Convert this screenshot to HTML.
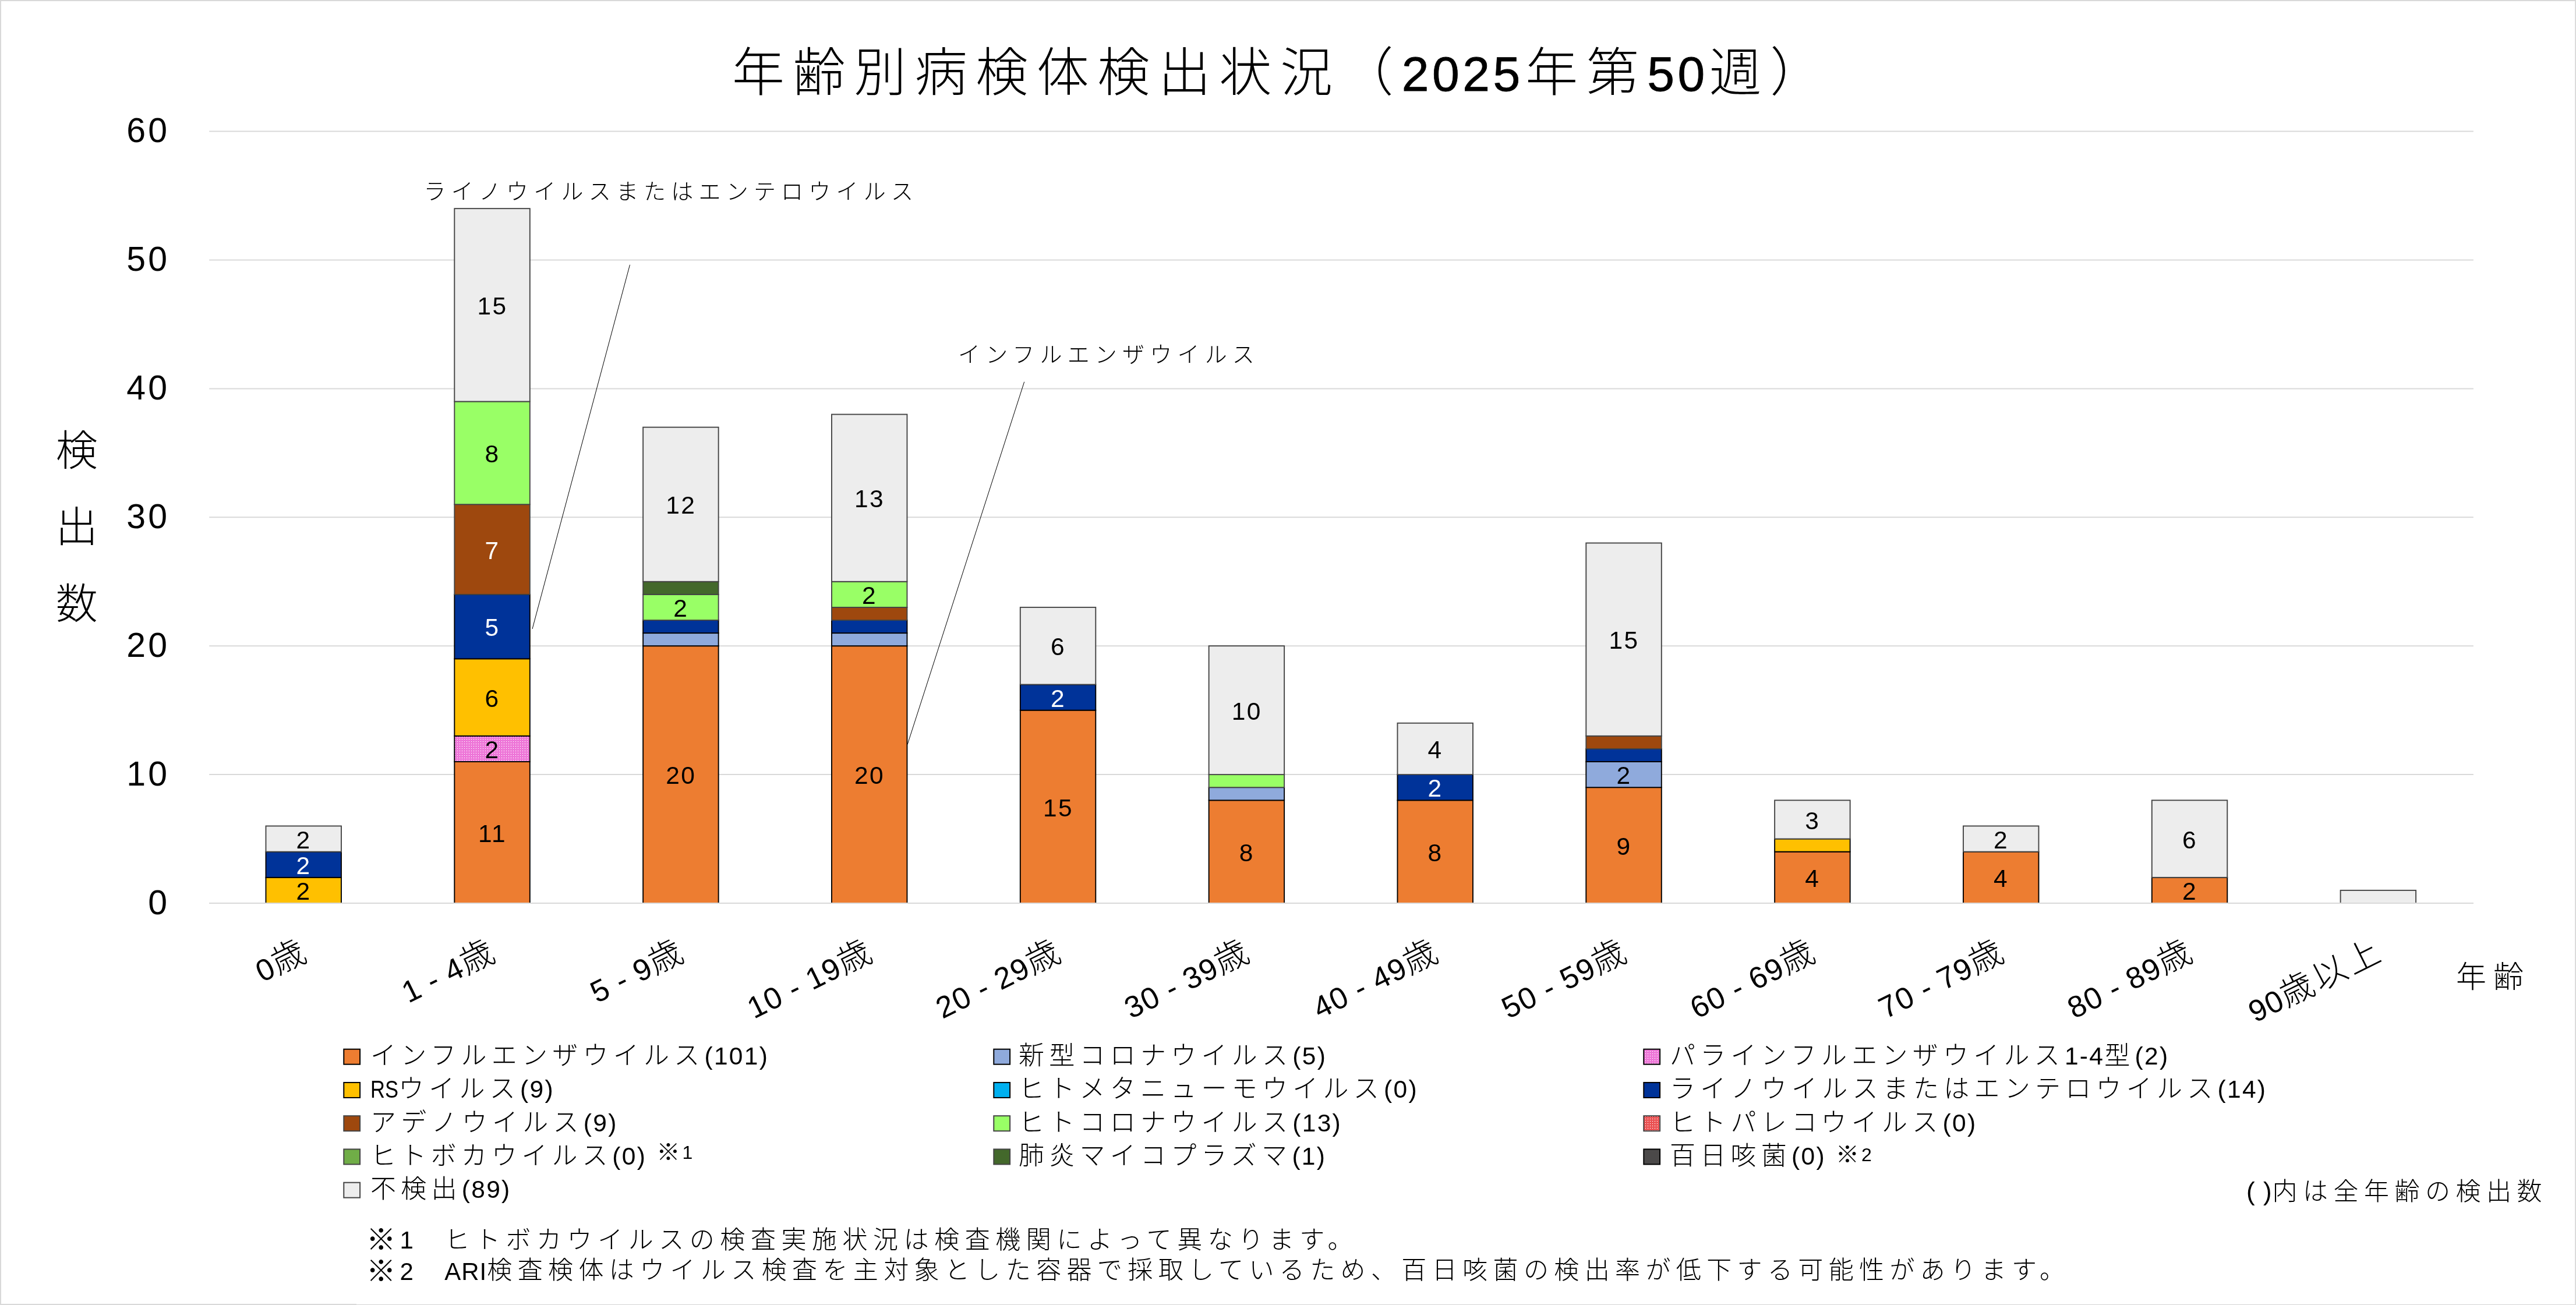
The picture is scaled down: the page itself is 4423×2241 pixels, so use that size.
<!DOCTYPE html>
<html lang="ja"><head><meta charset="utf-8"><title>年齢別病検体検出状況（2025年第50週）</title>
<style>html,body{margin:0;padding:0;background:#fff}svg{display:block;will-change:transform}text{font-family:"Liberation Sans", "Noto Sans CJK JP", sans-serif;font-weight:300;fill:#000;white-space:pre}</style></head><body>
<svg width="4423" height="2241" viewBox="0 0 4423 2241">
<defs>
<pattern id="pPink" width="4" height="4" patternUnits="userSpaceOnUse"><rect width="4" height="4" fill="#E84ACB"/><rect x="0" y="0" width="1" height="1" fill="#fff"/><rect x="2" y="0" width="1" height="1" fill="#fff"/><rect x="1" y="1" width="1" height="1" fill="#fff"/><rect x="0" y="2" width="1" height="1" fill="#fff"/><rect x="2" y="2" width="1" height="1" fill="#fff"/></pattern>
<pattern id="pRed" width="4" height="4" patternUnits="userSpaceOnUse"><rect width="4" height="4" fill="#E41A1C"/><rect x="0" y="0" width="1" height="1" fill="#fff"/><rect x="2" y="0" width="1" height="1" fill="#fff"/><rect x="1" y="1" width="1" height="1" fill="#fff"/><rect x="0" y="2" width="1" height="1" fill="#fff"/><rect x="2" y="2" width="1" height="1" fill="#fff"/></pattern>
</defs>
<rect x="0" y="0" width="4423" height="2" fill="#D9D9D9"/><rect x="0" y="0" width="2" height="2241" fill="#D9D9D9"/>
<rect x="4421.2" y="0" width="1.8" height="2241" fill="#D9D9D9"/>
<rect x="0" y="2239" width="612" height="2" fill="#D9D9D9"/><rect x="612" y="2239.8" width="3811" height="1.2" fill="#D9D9D9"/>
<text x="1257" y="156" font-size="90"><tspan letter-spacing="14.56">年齢別病検体検出状況（</tspan><tspan letter-spacing="5.5" font-size="84" dx="-0.4" stroke="#000" stroke-width="0.8">2025</tspan><tspan letter-spacing="14.56" dx="3.6">年第</tspan><tspan letter-spacing="5.5" font-size="84" stroke="#000" stroke-width="0.8">50</tspan><tspan letter-spacing="14.56" dx="2">週）</tspan></text>
<line x1="359.2" y1="1551.00" x2="4246.9" y2="1551.00" stroke="#D9D9D9" stroke-width="2"/>
<text x="291" y="1569.50" font-size="59" letter-spacing="4" text-anchor="end">0</text>
<line x1="359.2" y1="1330.10" x2="4246.9" y2="1330.10" stroke="#D9D9D9" stroke-width="2"/>
<text x="291" y="1348.60" font-size="59" letter-spacing="4" text-anchor="end">10</text>
<line x1="359.2" y1="1109.20" x2="4246.9" y2="1109.20" stroke="#D9D9D9" stroke-width="2"/>
<text x="291" y="1127.70" font-size="59" letter-spacing="4" text-anchor="end">20</text>
<line x1="359.2" y1="888.30" x2="4246.9" y2="888.30" stroke="#D9D9D9" stroke-width="2"/>
<text x="291" y="906.80" font-size="59" letter-spacing="4" text-anchor="end">30</text>
<line x1="359.2" y1="667.40" x2="4246.9" y2="667.40" stroke="#D9D9D9" stroke-width="2"/>
<text x="291" y="685.90" font-size="59" letter-spacing="4" text-anchor="end">40</text>
<line x1="359.2" y1="446.50" x2="4246.9" y2="446.50" stroke="#D9D9D9" stroke-width="2"/>
<text x="291" y="465.00" font-size="59" letter-spacing="4" text-anchor="end">50</text>
<line x1="359.2" y1="225.60" x2="4246.9" y2="225.60" stroke="#D9D9D9" stroke-width="2"/>
<text x="291" y="244.10" font-size="59" letter-spacing="4" text-anchor="end">60</text>
<text x="131.7" y="798.5" font-size="72" text-anchor="middle">検</text>
<text x="131.7" y="930" font-size="72" text-anchor="middle">出</text>
<text x="131.7" y="1061.5" font-size="72" text-anchor="middle">数</text>
<rect x="456.49" y="1506.82" width="129.50" height="44.18" fill="#FFC000" stroke="#000000" stroke-width="1.9"/>
<rect x="456.49" y="1462.64" width="129.50" height="44.18" fill="#003399" stroke="#000000" stroke-width="1.9"/>
<rect x="456.49" y="1418.46" width="129.50" height="44.18" fill="#EDEDED" stroke="#444444" stroke-width="1.9"/>
<rect x="780.32" y="1308.01" width="129.50" height="242.99" fill="#ED7D31" stroke="#000000" stroke-width="1.9"/>
<rect x="780.32" y="1263.83" width="129.50" height="44.18" fill="url(#pPink)" stroke="#000000" stroke-width="1.9"/>
<rect x="780.32" y="1131.29" width="129.50" height="132.54" fill="#FFC000" stroke="#000000" stroke-width="1.9"/>
<rect x="780.32" y="1020.84" width="129.50" height="110.45" fill="#003399" stroke="#000000" stroke-width="1.9"/>
<rect x="780.32" y="866.21" width="129.50" height="154.63" fill="#9E480E" stroke="#444444" stroke-width="1.9"/>
<rect x="780.32" y="689.49" width="129.50" height="176.72" fill="#99FF66" stroke="#444444" stroke-width="1.9"/>
<rect x="780.32" y="358.14" width="129.50" height="331.35" fill="#EDEDED" stroke="#444444" stroke-width="1.9"/>
<rect x="1104.14" y="1109.20" width="129.50" height="441.80" fill="#ED7D31" stroke="#000000" stroke-width="1.9"/>
<rect x="1104.14" y="1087.11" width="129.50" height="22.09" fill="#8FAADC" stroke="#000000" stroke-width="1.9"/>
<rect x="1104.14" y="1065.02" width="129.50" height="22.09" fill="#003399" stroke="#000000" stroke-width="1.9"/>
<rect x="1104.14" y="1020.84" width="129.50" height="44.18" fill="#99FF66" stroke="#444444" stroke-width="1.9"/>
<rect x="1104.14" y="998.75" width="129.50" height="22.09" fill="#43682B" stroke="#444444" stroke-width="1.9"/>
<rect x="1104.14" y="733.67" width="129.50" height="265.08" fill="#EDEDED" stroke="#444444" stroke-width="1.9"/>
<rect x="1427.97" y="1109.20" width="129.50" height="441.80" fill="#ED7D31" stroke="#000000" stroke-width="1.9"/>
<rect x="1427.97" y="1087.11" width="129.50" height="22.09" fill="#8FAADC" stroke="#000000" stroke-width="1.9"/>
<rect x="1427.97" y="1065.02" width="129.50" height="22.09" fill="#003399" stroke="#000000" stroke-width="1.9"/>
<rect x="1427.97" y="1042.93" width="129.50" height="22.09" fill="#9E480E" stroke="#444444" stroke-width="1.9"/>
<rect x="1427.97" y="998.75" width="129.50" height="44.18" fill="#99FF66" stroke="#444444" stroke-width="1.9"/>
<rect x="1427.97" y="711.58" width="129.50" height="287.17" fill="#EDEDED" stroke="#444444" stroke-width="1.9"/>
<rect x="1751.80" y="1219.65" width="129.50" height="331.35" fill="#ED7D31" stroke="#000000" stroke-width="1.9"/>
<rect x="1751.80" y="1175.47" width="129.50" height="44.18" fill="#003399" stroke="#000000" stroke-width="1.9"/>
<rect x="1751.80" y="1042.93" width="129.50" height="132.54" fill="#EDEDED" stroke="#444444" stroke-width="1.9"/>
<rect x="2075.63" y="1374.28" width="129.50" height="176.72" fill="#ED7D31" stroke="#000000" stroke-width="1.9"/>
<rect x="2075.63" y="1352.19" width="129.50" height="22.09" fill="#8FAADC" stroke="#000000" stroke-width="1.9"/>
<rect x="2075.63" y="1330.10" width="129.50" height="22.09" fill="#99FF66" stroke="#444444" stroke-width="1.9"/>
<rect x="2075.63" y="1109.20" width="129.50" height="220.90" fill="#EDEDED" stroke="#444444" stroke-width="1.9"/>
<rect x="2399.47" y="1374.28" width="129.50" height="176.72" fill="#ED7D31" stroke="#000000" stroke-width="1.9"/>
<rect x="2399.47" y="1330.10" width="129.50" height="44.18" fill="#003399" stroke="#000000" stroke-width="1.9"/>
<rect x="2399.47" y="1241.74" width="129.50" height="88.36" fill="#EDEDED" stroke="#444444" stroke-width="1.9"/>
<rect x="2723.30" y="1352.19" width="129.50" height="198.81" fill="#ED7D31" stroke="#000000" stroke-width="1.9"/>
<rect x="2723.30" y="1308.01" width="129.50" height="44.18" fill="#8FAADC" stroke="#000000" stroke-width="1.9"/>
<rect x="2723.30" y="1285.92" width="129.50" height="22.09" fill="#003399" stroke="#000000" stroke-width="1.9"/>
<rect x="2723.30" y="1263.83" width="129.50" height="22.09" fill="#9E480E" stroke="#444444" stroke-width="1.9"/>
<rect x="2723.30" y="932.48" width="129.50" height="331.35" fill="#EDEDED" stroke="#444444" stroke-width="1.9"/>
<rect x="3047.12" y="1462.64" width="129.50" height="88.36" fill="#ED7D31" stroke="#000000" stroke-width="1.9"/>
<rect x="3047.12" y="1440.55" width="129.50" height="22.09" fill="#FFC000" stroke="#000000" stroke-width="1.9"/>
<rect x="3047.12" y="1374.28" width="129.50" height="66.27" fill="#EDEDED" stroke="#444444" stroke-width="1.9"/>
<rect x="3370.95" y="1462.64" width="129.50" height="88.36" fill="#ED7D31" stroke="#000000" stroke-width="1.9"/>
<rect x="3370.95" y="1418.46" width="129.50" height="44.18" fill="#EDEDED" stroke="#444444" stroke-width="1.9"/>
<rect x="3694.78" y="1506.82" width="129.50" height="44.18" fill="#ED7D31" stroke="#000000" stroke-width="1.9"/>
<rect x="3694.78" y="1374.28" width="129.50" height="132.54" fill="#EDEDED" stroke="#444444" stroke-width="1.9"/>
<rect x="4018.61" y="1528.91" width="129.50" height="22.09" fill="#EDEDED" stroke="#444444" stroke-width="1.9"/>
<line x1="359.2" y1="1551.00" x2="4246.9" y2="1551.00" stroke="#D9D9D9" stroke-width="2"/>
<text x="521.63" y="1545.11" font-size="42.5" letter-spacing="2.4" text-anchor="middle" fill="#000" style="fill:#000">2</text>
<text x="521.63" y="1500.93" font-size="42.5" letter-spacing="2.4" text-anchor="middle" fill="#fff" style="fill:#fff">2</text>
<text x="521.63" y="1456.75" font-size="42.5" letter-spacing="2.4" text-anchor="middle" fill="#000" style="fill:#000">2</text>
<text x="845.47" y="1445.71" font-size="42.5" letter-spacing="2.4" text-anchor="middle" fill="#000" style="fill:#000">11</text>
<text x="845.47" y="1302.12" font-size="42.5" letter-spacing="2.4" text-anchor="middle" fill="#000" style="fill:#000">2</text>
<text x="845.47" y="1213.76" font-size="42.5" letter-spacing="2.4" text-anchor="middle" fill="#000" style="fill:#000">6</text>
<text x="845.47" y="1092.27" font-size="42.5" letter-spacing="2.4" text-anchor="middle" fill="#fff" style="fill:#fff">5</text>
<text x="845.47" y="959.73" font-size="42.5" letter-spacing="2.4" text-anchor="middle" fill="#fff" style="fill:#fff">7</text>
<text x="845.47" y="794.05" font-size="42.5" letter-spacing="2.4" text-anchor="middle" fill="#000" style="fill:#000">8</text>
<text x="845.47" y="540.02" font-size="42.5" letter-spacing="2.4" text-anchor="middle" fill="#000" style="fill:#000">15</text>
<text x="1169.30" y="1346.30" font-size="42.5" letter-spacing="2.4" text-anchor="middle" fill="#000" style="fill:#000">20</text>
<text x="1169.30" y="1059.13" font-size="42.5" letter-spacing="2.4" text-anchor="middle" fill="#000" style="fill:#000">2</text>
<text x="1169.30" y="882.41" font-size="42.5" letter-spacing="2.4" text-anchor="middle" fill="#000" style="fill:#000">12</text>
<text x="1493.12" y="1346.30" font-size="42.5" letter-spacing="2.4" text-anchor="middle" fill="#000" style="fill:#000">20</text>
<text x="1493.12" y="1037.04" font-size="42.5" letter-spacing="2.4" text-anchor="middle" fill="#000" style="fill:#000">2</text>
<text x="1493.12" y="871.37" font-size="42.5" letter-spacing="2.4" text-anchor="middle" fill="#000" style="fill:#000">13</text>
<text x="1816.95" y="1401.53" font-size="42.5" letter-spacing="2.4" text-anchor="middle" fill="#000" style="fill:#000">15</text>
<text x="1816.95" y="1213.76" font-size="42.5" letter-spacing="2.4" text-anchor="middle" fill="#fff" style="fill:#fff">2</text>
<text x="1816.95" y="1125.40" font-size="42.5" letter-spacing="2.4" text-anchor="middle" fill="#000" style="fill:#000">6</text>
<text x="2140.78" y="1478.84" font-size="42.5" letter-spacing="2.4" text-anchor="middle" fill="#000" style="fill:#000">8</text>
<text x="2140.78" y="1235.85" font-size="42.5" letter-spacing="2.4" text-anchor="middle" fill="#000" style="fill:#000">10</text>
<text x="2464.62" y="1478.84" font-size="42.5" letter-spacing="2.4" text-anchor="middle" fill="#000" style="fill:#000">8</text>
<text x="2464.62" y="1368.39" font-size="42.5" letter-spacing="2.4" text-anchor="middle" fill="#fff" style="fill:#fff">2</text>
<text x="2464.62" y="1302.12" font-size="42.5" letter-spacing="2.4" text-anchor="middle" fill="#000" style="fill:#000">4</text>
<text x="2788.45" y="1467.80" font-size="42.5" letter-spacing="2.4" text-anchor="middle" fill="#000" style="fill:#000">9</text>
<text x="2788.45" y="1346.30" font-size="42.5" letter-spacing="2.4" text-anchor="middle" fill="#000" style="fill:#000">2</text>
<text x="2788.45" y="1114.36" font-size="42.5" letter-spacing="2.4" text-anchor="middle" fill="#000" style="fill:#000">15</text>
<text x="3112.28" y="1523.02" font-size="42.5" letter-spacing="2.4" text-anchor="middle" fill="#000" style="fill:#000">4</text>
<text x="3112.28" y="1423.62" font-size="42.5" letter-spacing="2.4" text-anchor="middle" fill="#000" style="fill:#000">3</text>
<text x="3436.11" y="1523.02" font-size="42.5" letter-spacing="2.4" text-anchor="middle" fill="#000" style="fill:#000">4</text>
<text x="3436.11" y="1456.75" font-size="42.5" letter-spacing="2.4" text-anchor="middle" fill="#000" style="fill:#000">2</text>
<text x="3759.93" y="1545.11" font-size="42.5" letter-spacing="2.4" text-anchor="middle" fill="#000" style="fill:#000">2</text>
<text x="3759.93" y="1456.75" font-size="42.5" letter-spacing="2.4" text-anchor="middle" fill="#000" style="fill:#000">6</text>
<text transform="translate(533.94 1646) rotate(-26.3)" font-size="58" text-anchor="end"><tspan letter-spacing="1.5" font-size="52">0</tspan><tspan letter-spacing="5">歳</tspan></text>
<text transform="translate(857.77 1646) rotate(-26.3)" font-size="58" text-anchor="end"><tspan letter-spacing="1.5" font-size="52">1 - 4</tspan><tspan letter-spacing="5">歳</tspan></text>
<text transform="translate(1181.60 1646) rotate(-26.3)" font-size="58" text-anchor="end"><tspan letter-spacing="1.5" font-size="52">5 - 9</tspan><tspan letter-spacing="5">歳</tspan></text>
<text transform="translate(1505.42 1646) rotate(-26.3)" font-size="58" text-anchor="end"><tspan letter-spacing="1.5" font-size="52">10 - 19</tspan><tspan letter-spacing="5">歳</tspan></text>
<text transform="translate(1829.25 1646) rotate(-26.3)" font-size="58" text-anchor="end"><tspan letter-spacing="1.5" font-size="52">20 - 29</tspan><tspan letter-spacing="5">歳</tspan></text>
<text transform="translate(2153.08 1646) rotate(-26.3)" font-size="58" text-anchor="end"><tspan letter-spacing="1.5" font-size="52">30 - 39</tspan><tspan letter-spacing="5">歳</tspan></text>
<text transform="translate(2476.91 1646) rotate(-26.3)" font-size="58" text-anchor="end"><tspan letter-spacing="1.5" font-size="52">40 - 49</tspan><tspan letter-spacing="5">歳</tspan></text>
<text transform="translate(2800.74 1646) rotate(-26.3)" font-size="58" text-anchor="end"><tspan letter-spacing="1.5" font-size="52">50 - 59</tspan><tspan letter-spacing="5">歳</tspan></text>
<text transform="translate(3124.57 1646) rotate(-26.3)" font-size="58" text-anchor="end"><tspan letter-spacing="1.5" font-size="52">60 - 69</tspan><tspan letter-spacing="5">歳</tspan></text>
<text transform="translate(3448.40 1646) rotate(-26.3)" font-size="58" text-anchor="end"><tspan letter-spacing="1.5" font-size="52">70 - 79</tspan><tspan letter-spacing="5">歳</tspan></text>
<text transform="translate(3772.23 1646) rotate(-26.3)" font-size="58" text-anchor="end"><tspan letter-spacing="1.5" font-size="52">80 - 89</tspan><tspan letter-spacing="5">歳</tspan></text>
<text transform="translate(4096.06 1646) rotate(-26.3)" font-size="58" text-anchor="end"><tspan letter-spacing="1.5" font-size="52">90</tspan><tspan letter-spacing="5">歳以上</tspan></text>
<text x="4217" y="1696" font-size="52" letter-spacing="12">年齢</text>
<text x="727.5" y="342" font-size="38" letter-spacing="9.2">ライノウイルスまたはエンテロウイルス</text>
<line x1="1081.5" y1="454.7" x2="914" y2="1080" stroke="#000" stroke-width="1"/>
<text x="1645" y="622" font-size="38" letter-spacing="9.2">インフルエンザウイルス</text>
<line x1="1758.7" y1="655.7" x2="1558.2" y2="1278.2" stroke="#000" stroke-width="1"/>
<rect x="590.30" y="1801.70" width="27.8" height="26" fill="#ED7D31" stroke="#000000" stroke-width="2"/>
<text x="636" y="1828.20" font-size="44"><tspan letter-spacing="8.25">インフルエンザウイルス</tspan><tspan letter-spacing="2.3" font-size="42.5">(101)</tspan></text>
<rect x="590.30" y="1858.95" width="27.8" height="26" fill="#FFC000" stroke="#000000" stroke-width="2"/>
<text x="636" y="1885.45" font-size="44"><tspan textLength="48" lengthAdjust="spacingAndGlyphs" font-size="42.5">RS</tspan><tspan letter-spacing="8.25">ウイルス</tspan><tspan letter-spacing="2.3" font-size="42.5">(9)</tspan></text>
<rect x="590.30" y="1916.20" width="27.8" height="26" fill="#9E480E" stroke="#444444" stroke-width="2"/>
<text x="636" y="1942.70" font-size="44"><tspan letter-spacing="8.25">アデノウイルス</tspan><tspan letter-spacing="2.3" font-size="42.5">(9)</tspan></text>
<rect x="590.30" y="1973.45" width="27.8" height="26" fill="#70AD47" stroke="#444444" stroke-width="2"/>
<text x="636" y="1999.95" font-size="44"><tspan letter-spacing="7.92">ヒトボカウイルス</tspan><tspan letter-spacing="2.3" font-size="42.5">(0)</tspan></text>
<text x="1127.3" y="1993.45" font-size="40.4"><tspan letter-spacing="3.7">※</tspan><tspan dy="-3" font-size="32">1</tspan></text>
<rect x="590.30" y="2030.70" width="27.8" height="26" fill="#EDEDED" stroke="#444444" stroke-width="2"/>
<text x="636" y="2057.20" font-size="44"><tspan letter-spacing="8.25">不検出</tspan><tspan letter-spacing="2.3" font-size="42.5">(89)</tspan></text>
<rect x="1706.30" y="1801.70" width="27.8" height="26" fill="#8FAADC" stroke="#000000" stroke-width="2"/>
<text x="1749" y="1828.20" font-size="44"><tspan letter-spacing="8.25">新型コロナウイルス</tspan><tspan letter-spacing="2.3" font-size="42.5">(5)</tspan></text>
<rect x="1706.30" y="1858.95" width="27.8" height="26" fill="#00B0F0" stroke="#000000" stroke-width="2"/>
<text x="1749" y="1885.45" font-size="44"><tspan letter-spacing="8.25">ヒトメタニューモウイルス</tspan><tspan letter-spacing="2.3" font-size="42.5">(0)</tspan></text>
<rect x="1706.30" y="1916.20" width="27.8" height="26" fill="#99FF66" stroke="#444444" stroke-width="2"/>
<text x="1749" y="1942.70" font-size="44"><tspan letter-spacing="8.25">ヒトコロナウイルス</tspan><tspan letter-spacing="2.3" font-size="42.5">(13)</tspan></text>
<rect x="1706.30" y="1973.45" width="27.8" height="26" fill="#43682B" stroke="#444444" stroke-width="2"/>
<text x="1749" y="1999.95" font-size="44"><tspan letter-spacing="8.25">肺炎マイコプラズマ</tspan><tspan letter-spacing="2.3" font-size="42.5">(1)</tspan></text>
<rect x="2822.30" y="1801.70" width="27.8" height="26" fill="url(#pPink)" stroke="#000000" stroke-width="2"/>
<text x="2867" y="1828.20" font-size="44"><tspan letter-spacing="8.25">パラインフルエンザウイルス</tspan><tspan letter-spacing="2.3" font-size="42.5">1-4</tspan><tspan letter-spacing="8.25">型</tspan><tspan letter-spacing="2.3" font-size="42.5">(2)</tspan></text>
<rect x="2822.30" y="1858.95" width="27.8" height="26" fill="#003399" stroke="#000000" stroke-width="2"/>
<text x="2867" y="1885.45" font-size="44"><tspan letter-spacing="8.25">ライノウイルスまたはエンテロウイルス</tspan><tspan letter-spacing="2.3" font-size="42.5">(14)</tspan></text>
<rect x="2822.30" y="1916.20" width="27.8" height="26" fill="url(#pRed)" stroke="#444444" stroke-width="2"/>
<text x="2867" y="1942.70" font-size="44"><tspan letter-spacing="8.25">ヒトパレコウイルス</tspan><tspan letter-spacing="2.3" font-size="42.5">(0)</tspan></text>
<rect x="2822.30" y="1973.45" width="27.8" height="26" fill="#4B4949" stroke="#000000" stroke-width="2"/>
<text x="2867" y="1999.95" font-size="44"><tspan letter-spacing="8.25">百日咳菌</tspan><tspan letter-spacing="2.3" font-size="42.5">(0)</tspan></text>
<text x="3151.8" y="1997.45" font-size="40.4"><tspan letter-spacing="3.7">※</tspan><tspan dy="-3" font-size="32">2</tspan></text>
<text x="3857" y="2061" font-size="43"><tspan letter-spacing="1" font-size="44">( )</tspan><tspan letter-spacing="9.5">内は全年齢の検出数</tspan></text>
<text x="634" y="2144" font-size="43"><tspan font-size="51" dx="-5.3" dy="3" letter-spacing="6.8">※</tspan><tspan dy="-3" font-size="42" letter-spacing="1">1</tspan><tspan letter-spacing="9.55">　ヒトボカウイルスの検査実施状況は検査機関によって異なります。</tspan></text>
<text x="634" y="2198" font-size="43"><tspan font-size="51" dx="-5.3" dy="3" letter-spacing="6.8">※</tspan><tspan dy="-3" font-size="42" letter-spacing="1">2</tspan><tspan letter-spacing="9.38">　</tspan><tspan font-size="42" letter-spacing="1">ARI</tspan><tspan dy="-2.3" letter-spacing="9.38">検査検体はウイルス検査を主対象とした容器で採取しているため、百日咳菌の検出率が低下する可能性があります。</tspan></text>
</svg></body></html>
